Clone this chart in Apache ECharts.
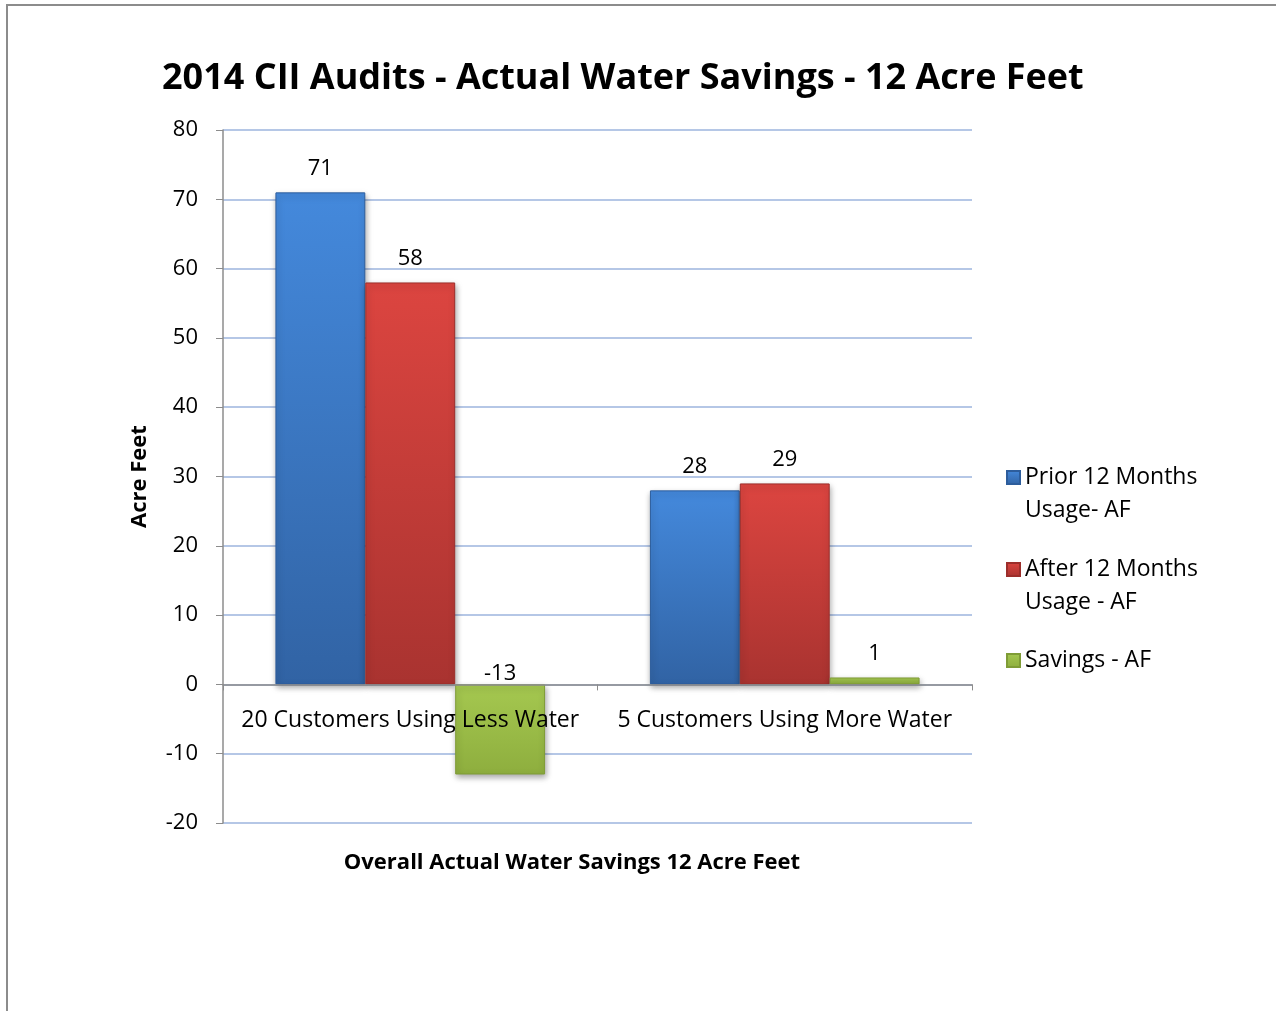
<!DOCTYPE html>
<html>
<head>
<meta charset="utf-8">
<script src="https://cdn.jsdelivr.net/npm/echarts@6/dist/echarts.min.js"></script>
<style>
  html, body { margin: 0; padding: 0; background: #fff; }
  #frame { position: absolute; left: 6px; top: 4px; width: 1280px; height: 1020px;
           border-left: 2px solid #8c8c8c; border-top: 2px solid #8c8c8c; }
  #chart { position: absolute; left: 0; top: 0; width: 1276px; height: 1011px; }
</style>
</head>
<body>
<div id="frame"></div>
<div id="chart"></div>
<script>
// 数据
const categories = ["20 Customers Using Less Water", "5 Customers Using More Water"];
const priorUsage = [71, 28];
const afterUsage = [58, 29];
const savings = [-13, 1];
const yTicks = { min: -20, max: 80, interval: 10 };

const FONT = "'Open Sans', sans-serif";

function grad(top, bottom) {
  return new echarts.graphic.LinearGradient(0, 0, 0, 1, [
    { offset: 0, color: top },
    { offset: 1, color: bottom },
  ]);
}

const barShadow = {
  shadowBlur: 6,
  shadowColor: "rgba(0,0,0,0.35)",
  shadowOffsetX: 1,
  shadowOffsetY: 3,
};

const labelStyle = {
  show: true,
  position: "top",
  distance: 13,
  color: "#000",
  fontSize: 22,
  fontFamily: FONT,
};

// 每个图例单独放置，两行的图例前面加一个空行，让色块对齐第一行
function legendFor(name, top, twoLines) {
  return {
    top: top,
    left: 1001,
    itemWidth: 13,
    itemHeight: 13,
    itemGap: 0,
    selectedMode: false,
    icon: "rect",
    data: [{ name: name }],
    formatter: (n) => (twoLines ? "\n" + n : n),
    textStyle: {
      fontSize: 23,
      fontFamily: FONT,
      color: "#000",
      lineHeight: 33,
    },
  };
}

const option = {
  animation: false,
  title: [
    {
      text: "2014 CII Audits - Actual Water Savings - 12 Acre Feet",
      left: 157,
      top: 56,
      textStyle: { fontSize: 36, fontWeight: "bold", fontFamily: FONT, color: "#000" },
    },
    {
      text: "Overall Actual Water Savings 12 Acre Feet",
      left: 567,
      top: 847,
      textAlign: "center",
      textStyle: { fontSize: 22, fontWeight: "bold", fontFamily: FONT, color: "#000" },
    },
  ],
  legend: [
    legendFor("Prior 12 Months\nUsage- AF", 423, true),
    legendFor("After 12 Months\nUsage - AF", 515, true),
    legendFor("Savings - AF", 639, false),
  ],
  grid: { left: 223, right: 304, top: 130, bottom: 188 },
  xAxis: {
    type: "category",
    data: categories,
    z: 5,
    axisLine: { onZero: true, lineStyle: { color: "#8c8c8c", width: 1.5 } },
    axisTick: { show: true, length: 6, lineStyle: { color: "#8c8c8c" } },
    // 标签放在 0 线下方
    axisLabel: { interval: 0, margin: -114, fontSize: 23, fontFamily: FONT, color: "#000" },
  },
  yAxis: {
    type: "value",
    min: yTicks.min,
    max: yTicks.max,
    interval: yTicks.interval,
    name: "Acre Feet",
    nameLocation: "middle",
    nameGap: 72,
    nameTextStyle: { fontSize: 22, fontWeight: "bold", fontFamily: FONT, color: "#000" },
    axisLine: { show: true, lineStyle: { color: "#8c8c8c", width: 1.5 } },
    axisTick: { show: true, length: 7, lineStyle: { color: "#8c8c8c" } },
    axisLabel: { margin: 25, fontSize: 22, fontFamily: FONT, color: "#000" },
    splitLine: { lineStyle: { color: "#9db5de", width: 1.5 } },
  },
  series: [
    {
      name: "Prior 12 Months\nUsage- AF",
      type: "bar",
      barGap: 0,
      barCategoryGap: "28%",
      data: priorUsage,
      label: labelStyle,
      itemStyle: Object.assign({ color: grad("#4489dc", "#3163a4"), borderColor: "#2d5d9c", borderWidth: 1 }, barShadow),
    },
    {
      name: "After 12 Months\nUsage - AF",
      type: "bar",
      barGap: 0,
      barCategoryGap: "28%",
      data: afterUsage,
      label: labelStyle,
      itemStyle: Object.assign({ color: grad("#dc4540", "#a93330"), borderColor: "#9c2e2b", borderWidth: 1 }, barShadow),
    },
    {
      name: "Savings - AF",
      type: "bar",
      barGap: 0,
      barCategoryGap: "28%",
      data: savings.map((v) => (v < 0 ? { value: v, label: { distance: 0 } } : v)),
      label: labelStyle,
      itemStyle: Object.assign({ color: grad("#a5c850", "#8eae3e"), borderColor: "#7f9c36", borderWidth: 1 }, barShadow),
    },
  ],
};

const chart = echarts.init(document.getElementById("chart"));
chart.setOption(option);
</script>
</body>
</html>
